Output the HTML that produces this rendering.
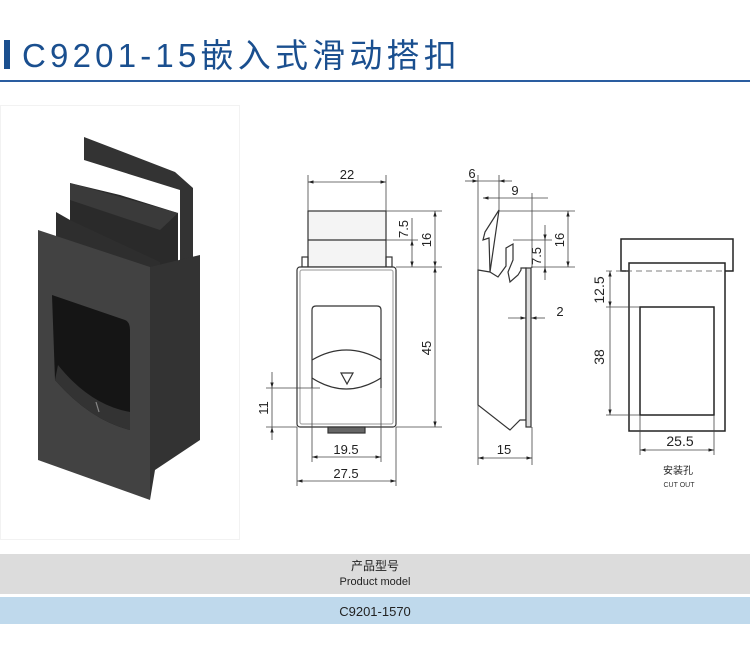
<!DOCTYPE html>
<html><head><meta charset="utf-8"><style>
body{margin:0;width:750px;height:649px;background:#fff;overflow:hidden;font-family:"Liberation Sans","Noto Sans CJK SC",sans-serif}
</style></head><body>
<svg width="750" height="649" viewBox="0 0 750 649" xmlns="http://www.w3.org/2000/svg" style="position:absolute;left:0;top:0">
<defs>
<marker id="a" viewBox="0 0 10 10" refX="10" refY="5" markerWidth="7" markerHeight="7" orient="auto-start-reverse"><path d="M0,2 L10,5 L0,8z" fill="#222"/></marker>
</defs>
<rect x="4" y="40" width="6" height="29" fill="#1a4f8f"/>
<text x="22" y="67" font-size="33" fill="#1a4f8f" letter-spacing="4.2" font-family="Liberation Sans,Noto Sans CJK SC,sans-serif">C9201-15嵌入式滑动搭扣</text>
<rect x="0" y="80" width="750" height="2" fill="#2a5da0"/>
<rect x="0.5" y="105.5" width="239" height="434" fill="#fff" stroke="#f2f2f2"/>
<polygon points="84,137 175,172 193,188 193,260 180,265 180,190 84,160" fill="#333"/>
<polygon points="70,183 120,195 178,213 178,268 160,290 70,250" fill="#2a2a2a"/>
<polygon points="70,183 178,213 160,230 70,200" fill="#3a3a3a"/>
<polygon points="56,212 70,220 160,262 160,290 56,250" fill="#2e2e2e"/>
<polygon points="150,267 200,255 200,440 155,470 150,500" fill="#333"/>
<polygon points="38,230 150,267 150,500 38,460" fill="#424242"/>
<path d="M52,295 L125,320 Q130,322 130,330 L130,430 Q90,420 55,380 Z" fill="#151515"/>
<path d="M55,380 Q90,420 130,430 L130,412 Q90,405 58,365 Z" fill="#333"/>
<line x1="96" y1="402" x2="99" y2="412" stroke="#888" stroke-width="1.2"/>
<g fill="none" stroke="#333" stroke-width="1.2">
<rect x="308" y="211" width="78" height="56" fill="#f4f4f4"/>
<line x1="308" y1="240" x2="386" y2="240"/>
<rect x="302" y="257" width="6" height="10"/><rect x="386" y="257" width="6" height="10"/>
<rect x="297" y="267" width="99" height="160" rx="3" fill="#fff"/>
<rect x="300" y="270" width="93" height="154" rx="2" stroke="#aaa"/>
<path d="M312,388 L312,310 Q312,306 316,306 L377,306 Q381,306 381,310 L381,388" fill="#fff"/>
<path d="M312,360 Q346,340 381,360"/>
<path d="M312,378 Q346,400 381,378"/>
<polygon points="341,373 353,373 347,384"/>
<rect x="328" y="427" width="37" height="6" fill="#666"/>
</g>
<g stroke="#444" stroke-width="0.8" fill="none">
<line x1="308" y1="175" x2="308" y2="211"/><line x1="386" y1="175" x2="386" y2="211"/>
<line x1="308" y1="182" x2="386" y2="182" marker-start="url(#a)" marker-end="url(#a)"/>
<line x1="386" y1="211" x2="442" y2="211"/><line x1="386" y1="240" x2="418" y2="240"/>
<line x1="396" y1="267" x2="442" y2="267"/><line x1="396" y1="427" x2="442" y2="427"/>
<line x1="435" y1="211" x2="435" y2="267" marker-start="url(#a)" marker-end="url(#a)"/>
<line x1="412" y1="218" x2="412" y2="240"/>
<line x1="412" y1="240" x2="412" y2="267" marker-start="url(#a)" marker-end="url(#a)"/>
<line x1="435" y1="267" x2="435" y2="427" marker-start="url(#a)" marker-end="url(#a)"/>
<line x1="266" y1="388" x2="320" y2="388"/><line x1="266" y1="427" x2="297" y2="427"/>
<line x1="272" y1="372" x2="272" y2="388" marker-end="url(#a)"/>
<line x1="272" y1="388" x2="272" y2="427"/>
<line x1="272" y1="440" x2="272" y2="427" marker-end="url(#a)"/>
<line x1="312" y1="388" x2="312" y2="462"/><line x1="381" y1="388" x2="381" y2="462"/>
<line x1="312" y1="457" x2="381" y2="457" marker-start="url(#a)" marker-end="url(#a)"/>
<line x1="297" y1="427" x2="297" y2="486"/><line x1="396" y1="427" x2="396" y2="486"/>
<line x1="297" y1="481" x2="396" y2="481" marker-start="url(#a)" marker-end="url(#a)"/>
</g>
<g font-size="13" fill="#222" font-family="Liberation Sans,sans-serif">
<text x="347" y="179" text-anchor="middle">22</text>
<text x="346" y="454" text-anchor="middle">19.5</text>
<text x="346" y="478" text-anchor="middle">27.5</text>
<text transform="translate(408,229) rotate(-90)" text-anchor="middle">7.5</text>
<text transform="translate(431,240) rotate(-90)" text-anchor="middle">16</text>
<text transform="translate(431,348) rotate(-90)" text-anchor="middle">45</text>
<text transform="translate(268,408) rotate(-90)" text-anchor="middle">11</text>
<text x="472" y="178" text-anchor="middle">6</text>
<text x="515" y="195" text-anchor="middle">9</text>
<text transform="translate(564,240) rotate(-90)" text-anchor="middle">16</text>
<text transform="translate(541,256) rotate(-90)" text-anchor="middle">7.5</text>
<text x="560" y="316" text-anchor="middle">2</text>
<text x="504" y="454" text-anchor="middle">15</text>
</g>
<g fill="#fff" stroke="#333" stroke-width="1.2">
<polygon points="499,210 485,232 483,240 489,238 490,272 498,277 506,266 506,248 513,244 513,260 508,272 510,282 518,275 521,270 521,268 526,268 526,420 520,420 510,430 478,405 478,270 490,272"/>
<rect x="526" y="268" width="5" height="159" fill="#ddd"/>
</g>
<g stroke="#444" stroke-width="0.8" fill="none">
<line x1="478" y1="175" x2="478" y2="270"/><line x1="499" y1="175" x2="499" y2="210"/>
<line x1="532" y1="193" x2="532" y2="268"/>
<line x1="465" y1="181" x2="478" y2="181" marker-end="url(#a)"/>
<line x1="478" y1="181" x2="499" y2="181"/>
<line x1="512" y1="181" x2="499" y2="181" marker-end="url(#a)"/>
<line x1="483" y1="198" x2="499" y2="198" marker-start="url(#a)"/>
<line x1="499" y1="198" x2="548" y2="198"/>
<line x1="499" y1="211" x2="575" y2="211"/><line x1="513" y1="240" x2="552" y2="240"/>
<line x1="531" y1="267" x2="575" y2="267"/>
<line x1="568" y1="211" x2="568" y2="267" marker-start="url(#a)" marker-end="url(#a)"/>
<line x1="545" y1="225" x2="545" y2="240" marker-end="url(#a)"/>
<line x1="545" y1="240" x2="545" y2="267"/>
<line x1="545" y1="280" x2="545" y2="267" marker-end="url(#a)"/>
<line x1="508" y1="318" x2="526" y2="318" marker-end="url(#a)"/>
<line x1="545" y1="318" x2="531" y2="318" marker-end="url(#a)"/>
<line x1="478" y1="405" x2="478" y2="465"/><line x1="532" y1="427" x2="532" y2="465"/>
<line x1="478" y1="458" x2="532" y2="458" marker-start="url(#a)" marker-end="url(#a)"/>
</g>
<g fill="none" stroke="#222" stroke-width="1.5">
<path d="M629,271 L621,271 L621,239 L733,239 L733,271 L725,271"/>
<rect x="629" y="263" width="96" height="168"/>
<rect x="640" y="307" width="74" height="108"/>
</g>
<line x1="606" y1="271" x2="725" y2="271" stroke="#555" stroke-width="0.8" stroke-dasharray="6,4"/>
<g stroke="#444" stroke-width="0.8" fill="none">
<line x1="606" y1="307" x2="640" y2="307"/><line x1="606" y1="415" x2="640" y2="415"/>
<line x1="610" y1="271" x2="610" y2="307" marker-start="url(#a)" marker-end="url(#a)"/>
<line x1="610" y1="307" x2="610" y2="415" marker-end="url(#a)"/>
<line x1="640" y1="415" x2="640" y2="455"/><line x1="714" y1="415" x2="714" y2="455"/>
<line x1="640" y1="450" x2="714" y2="450" marker-start="url(#a)" marker-end="url(#a)"/>
</g>
<g font-size="14" fill="#222">
<text transform="translate(604,290) rotate(-90)" text-anchor="middle">12.5</text>
<text transform="translate(604,357) rotate(-90)" text-anchor="middle">38</text>
<text x="680" y="446" text-anchor="middle">25.5</text>
</g>
<text x="678" y="474" font-size="10" text-anchor="middle" fill="#222" font-family="Noto Sans CJK SC,sans-serif">安装孔</text>
<text x="679" y="487" font-size="7" text-anchor="middle" fill="#333">CUT OUT</text>
<rect x="0" y="554" width="750" height="40" fill="#dcdcdc"/>
<rect x="0" y="597" width="750" height="27" fill="#bfd9ec"/>
<text x="375" y="570" font-size="12" text-anchor="middle" fill="#222" font-family="Noto Sans CJK SC,sans-serif">产品型号</text>
<text x="375" y="585" font-size="11" text-anchor="middle" fill="#222">Product model</text>
<text x="375" y="616" font-size="13" text-anchor="middle" fill="#222">C9201-1570</text>
</svg>
</body></html>
